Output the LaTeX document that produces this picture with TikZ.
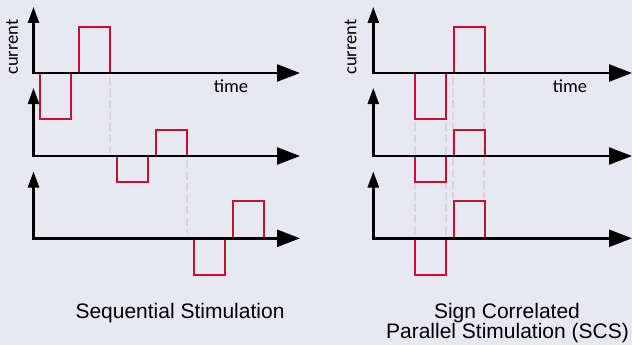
\documentclass[tikz,border=0pt]{standalone}
\usepackage{fontspec}
\setmainfont{Liberation Sans}
\newfontfamily\labelfont{Carlito}
\usetikzlibrary{arrows.meta}
\definecolor{bgc}{RGB}{232,232,242}
\definecolor{pulsered}{RGB}{200,16,46}
\definecolor{dashgray}{RGB}{214,214,220}
\newcommand\pulsetrain[3]{% x1, y0, amplitude
  \draw[pulsered,line width=2pt]
    (#1,#2) -- (#1,#2+#3) -- (#1+31,#2+#3) -- (#1+31,#2) -- (#1+39,#2)
    -- (#1+39,#2-#3) -- (#1+70,#2-#3) -- (#1+70,#2);}
\begin{document}
\begin{tikzpicture}[x=1pt,y=-1pt,
  axis/.style={line width=2.4pt,line join=miter,
    arrows={Triangle[length=16pt,width=11pt]-Triangle[length=23pt,width=17pt]}},
  guide/.style={dashgray,line width=2pt,dash pattern=on 8pt off 3.5pt},
  axislabel/.style={font=\labelfont\fontsize{18.5}{20}\selectfont,inner sep=0pt},
  caption/.style={font=\fontsize{21}{21}\selectfont,inner sep=0pt,anchor=base}]
\fill[bgc] (0,0) rectangle (632,345);
\useasboundingbox (0,0) rectangle (632,345);
% guides left
\draw[guide] (110,77) -- (110,153);
\draw[guide] (187,160) -- (187,233);
% guides right
\draw[guide] (415,123) -- (415,235);
\draw[guide] (445.7,123) -- (445.7,235);
\draw[guide] (453.3,77) -- (453.3,199);
\draw[guide] (484,77) -- (484,199);
% pulses left
\pulsetrain{40}{73}{46}
\pulsetrain{117}{156}{26}
\pulsetrain{194}{238.3}{37}
% pulses right
\pulsetrain{415}{73}{46}
\pulsetrain{415}{156}{26}
\pulsetrain{415}{238.3}{37}
% axes left
\coordinate (l1) at (33.5,73);
\coordinate (l2) at (33.5,156);
\coordinate (l3) at (33.5,238.3);
\draw[axis] (33.5,7) -- (l1) -- (300,73);
\draw[axis] (33.5,88) -- (l2) -- (300,156);
\draw[axis] (33.5,171.5) -- (l3) -- (300,238.3);
% axes right
\coordinate (r1) at (373.3,73);
\coordinate (r2) at (373.3,156);
\coordinate (r3) at (373.3,238.3);
\draw[axis] (373.3,7) -- (r1) -- (632,73);
\draw[axis] (373.3,88) -- (r2) -- (632,156);
\draw[axis] (373.3,171.5) -- (r3) -- (632,238.3);
% labels
\node[axislabel,rotate=90] (cl) at (12,47) {current};
\node[axislabel] (tl) at (231,86) {time};
\node[axislabel,rotate=90] (cr) at (350.5,47) {current};
\node[axislabel] (tr) at (570,86) {time};
\node[caption] (capl) at (180,318) {Sequential Stimulation};
\node[caption] (capr1) at (507,318) {Sign Correlated};
\node[caption] (capr2) at (507.5,338) {Parallel Stimulation (SCS)};
\end{tikzpicture}
\end{document}
